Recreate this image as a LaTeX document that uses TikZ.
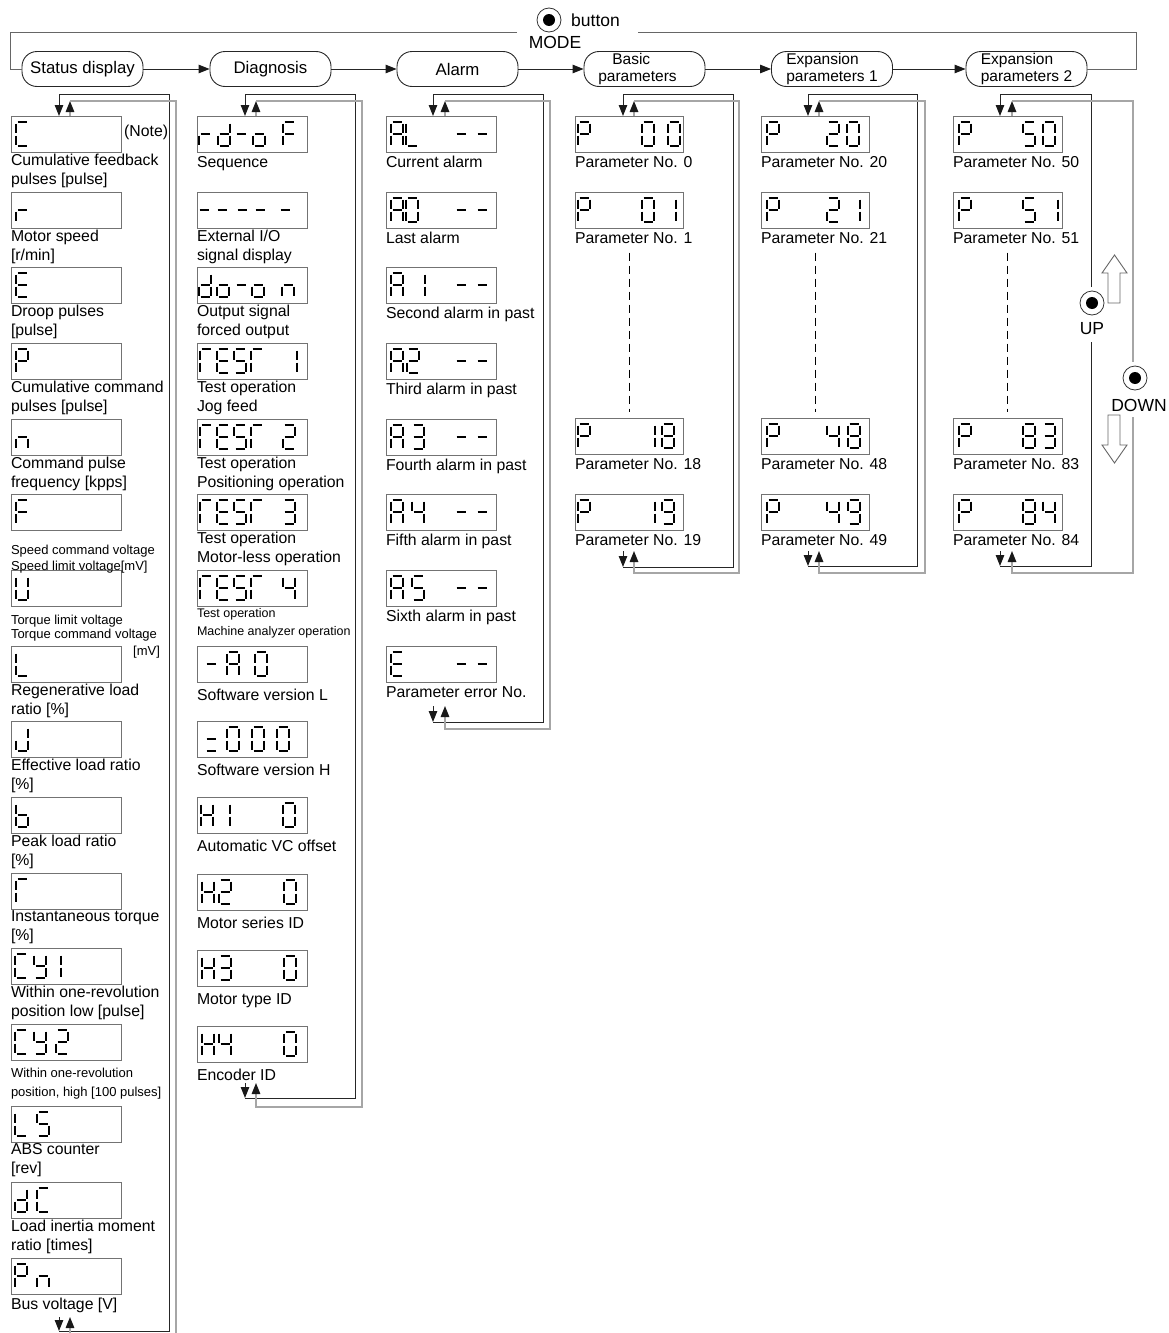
\documentclass[tikz,border=0pt]{standalone}
\usepackage{fontspec}
\setmainfont{Liberation Sans}
\usetikzlibrary{positioning,arrows.meta}

\newcommand\lblfont{\fontsize{15.8}{19}\selectfont}
\newcommand\pillfont{\fontsize{15.5}{17}\selectfont}
\newcommand\keyfont{\fontsize{17.5}{19}\selectfont}

% 7-segment glyphs: a top, b/c right, d bottom, e/f left, g middle
\newcommand\defglyph[2]{\expandafter\def\csname glyph:#1\endcsname{#2}}
\defglyph{C}{a,d,e,f}
\defglyph{r}{e,g}
\defglyph{E}{a,d,e,f,g}
\defglyph{P}{a,b,e,f,g}
\defglyph{n}{c,e,g}
\defglyph{F}{a,e,f,g}
\defglyph{U}{b,c,d,e,f}
\defglyph{L}{d,e,f}
\defglyph{J}{b,c,d,e}
\defglyph{b}{c,d,e,f,g}
\defglyph{T}{a,e,f}
\defglyph{Y}{b,c,d,f,g}
\defglyph{d}{b,c,d,e,g}
\defglyph{o}{c,d,e,g}
\defglyph{S}{a,c,d,f,g}
\defglyph{A}{a,b,c,e,f,g}
\defglyph{H}{b,c,e,f,g}
\defglyph{-}{g}
\defglyph{=}{d,g}
\defglyph{0}{a,b,c,d,e,f}
\defglyph{1}{b,c}
\defglyph{2}{a,b,d,e,g}
\defglyph{3}{a,b,c,d,g}
\defglyph{4}{b,c,f,g}
\defglyph{5}{a,c,d,f,g}
\defglyph{8}{a,b,c,d,e,f,g}
\defglyph{9}{a,b,c,d,f,g}

\newcommand\lcdsega[2]{\draw[segline] ({#1+1.5},{#2}) -- ({#1+10.5},{#2});}
\newcommand\lcdsegb[2]{\draw[segline] ({#1+12},{#2+1.5}) -- ({#1+12},{#2+10.5});}
\newcommand\lcdsegc[2]{\draw[segline] ({#1+12},{#2+13.5}) -- ({#1+12},{#2+22.5});}
\newcommand\lcdsegd[2]{\draw[segline] ({#1+1.5},{#2+24}) -- ({#1+10.5},{#2+24});}
\newcommand\lcdsege[2]{\draw[segline] ({#1},{#2+13.5}) -- ({#1},{#2+22.5});}
\newcommand\lcdsegf[2]{\draw[segline] ({#1},{#2+1.5}) -- ({#1},{#2+10.5});}
\newcommand\lcdsegg[2]{\draw[segline] ({#1+1.5},{#2+12}) -- ({#1+10.5},{#2+12});}

% display box with its glyphs and the text under it
\newcommand\lbloff{37.7}
\newcommand\lcd[6][110]{%
  \node[lcdbox,minimum width=#1] (#2) at (#3,#4) {};
  \foreach \dx/\gl in {#5}{%
    \edef\segs{\csname glyph:\gl\endcsname}%
    \foreach \sg in \segs {\csname lcdseg\sg\endcsname{#3+\dx}{#4+6}}%
  }%
  \ifx\relax#6\relax\else\node[lbl] (#2l) at (#3,#4+\lbloff) {#6};\fi
}

\begin{document}
\begin{tikzpicture}[x=1pt,y=-1pt,
  >={Triangle[length=11pt,width=8.5pt,color=black!90]},
  segline/.style={line width=1.1pt},
  lcdbox/.style={draw=black!55,line width=0.9pt,minimum height=36,anchor=north west,inner sep=0pt,outer sep=0pt},
  lbl/.style={font=\lblfont,align=left,anchor=north west,inner sep=0pt,outer sep=0pt,execute at begin node=\strut},
  pill/.style={draw=black!85,line width=0.9pt,rounded corners=15pt,minimum width=121,minimum height=35,inner sep=0pt,font=\pillfont,align=left},
  fwd/.style={draw=black!85,line width=1pt},
  back/.style={draw=black!35,line width=1.4pt},
  modeloop/.style={draw=black!60,line width=1pt},
  btn/.style={circle,draw=black!80,line width=0.8pt,minimum size=24,inner sep=0pt},
  hollow/.style={draw=black!60,line width=0.9pt,fill=white},
  dashln/.style={draw=black,line width=0.9pt,dash pattern=on 8pt off 5pt}]
\useasboundingbox (0,0) rectangle (1168,1333);

% ---- mode row ----
\node[pill,font=\fontsize{16.8}{19}\selectfont] (st) at (82.5,69) {Status display};
\node[pill,font=\fontsize{16.8}{19}\selectfont] (dg) at (270.5,69) {Diagnosis};
\node[pill,font=\fontsize{16.8}{19}\selectfont] (al) at (457.5,69) {Alarm};
\node[pill] (bp) at (644.5,69) {\hspace*{14pt}Basic\\parameters\hspace*{14pt}};
\node[pill] (e1) at (832,69) {Expansion\\parameters 1};
\node[pill] (e2) at (1026.5,69) {Expansion\\parameters 2};
\draw[fwd,->] (st) -- (dg);
\draw[fwd,->] (dg) -- (al);
\draw[fwd,->] (al) -- (bp);
\draw[fwd,->] (bp) -- (e1);
\draw[fwd,->] (e1) -- (e2);
\draw[modeloop] (e2.east) -- (1136,69) -- (1136,32) -- (638,32);
\draw[modeloop] (517,32) -- (10,32) -- (10,69) -- (st.west);
\node[btn] (modebtn) at (549,20) {};
\fill (modebtn.center) circle[radius=6];
\node[font=\keyfont,anchor=west,inner sep=0pt] (btntxt) at (571,20) {button};
\node[font=\keyfont,inner sep=0pt] (modetxt) at (555,42) {MODE};

% ---- status display ----
\lcd{s0}{11}{116}{5/C}{Cumulative feedback\\pulses [pulse]}
\lcd{s1}{11}{192}{5/r}{Motor speed\\{}[r/min]}
\lcd{s2}{11}{267}{5/E}{Droop pulses\\{}[pulse]}
\lcd{s3}{11}{343}{5/P}{Cumulative command\\pulses [pulse]}
\lcd{s4}{11}{419}{5/n}{Command pulse\\frequency [kpps]}
\lcd{s5}{11}{494}{5/F}{}
\lcd{s6}{11}{570}{5/U}{}
\lcd{s7}{11}{646}{5/L}{Regenerative load\\ratio [\%]}
\lcd{s8}{11}{721}{5/J}{Effective load ratio\\{}[\%]}
\lcd{s9}{11}{797}{5/b}{Peak load ratio\\{}[\%]}
\lcd{s10}{11}{873}{5/T}{Instantaneous torque\\{}[\%]}
\lcd{s11}{11}{948}{4/C,23/Y,38/1}{Within one-revolution\\position low [pulse]}
\lcd{s12}{11}{1024}{4/C,23/Y,45/2}{}
\lcd{s13}{11}{1106}{4/L,26/S}{ABS counter\\{}[rev]}
\lcd{s14}{11}{1182}{4/d,26/C}{Load inertia moment\\ratio [times]}
\lcd{s15}{11}{1258}{4/P,26/n}{Bus voltage [V]}
\node[font=\lblfont,anchor=base west,inner sep=0pt] (note) at (124,136) {(Note)};
\node[lbl,font=\fontsize{13}{16.5}\selectfont] (s5l) at (11,545) {Speed command voltage\\Speed limit voltage[mV]};
\node[lbl,font=\fontsize{13}{14}\selectfont] (s6l) at (11,615) {Torque limit voltage\\Torque command voltage};
\node[font=\fontsize{13}{14}\selectfont,anchor=base west,inner sep=0pt] (mv) at (133,655) {[mV]};
\node[lbl,font=\fontsize{13}{19}\selectfont] (s12l) at (11,1068) {Within one-revolution\\position, high [100 pulses]};

% ---- diagnosis ----
\lcd{d0}{197}{116}{2/r,21/d,38/-,56/o,86/F}{Sequence}
\lcd{d1}{197}{192}{1/-,19/-,39/-,57/-,82/-}{External I/O\\signal display}
\lcd{d2}{197}{267}{2/d,20/o,38/-,55/o,85/n}{Output signal\\forced output}
\lcd{d3}{197}{343}{3/T,20/E,37/S,54/T,88/1}{Test operation\\Jog feed}
\lcd{d4}{197}{419}{3/T,20/E,37/S,54/T,86/2}{Test operation\\Positioning operation}
\lcd{d5}{197}{494}{3/T,20/E,37/S,54/T,86/3}{Test operation\\Motor-less operation}
\lcd{d6}{197}{570}{3/T,20/E,37/S,54/T,86/4}{}
\node[lbl,font=\fontsize{12.5}{18}\selectfont] (d6l) at (197,608) {Test operation\\Machine analyzer operation};
\renewcommand\lbloff{40.7}
\lcd{d7}{197}{646}{8/-,30/A,58/0}{Software version L}
\lcd{d8}{197}{721}{8/=,30/0,55/0,80/0}{Software version H}
\lcd{d9}{197}{797}{4/H,21/1,86/0}{Automatic VC offset}
\lcd{d10}{197}{874}{5/H,22/2,87/0}{Motor series ID}
\lcd{d11}{197}{950}{5/H,22/3,87/0}{Motor type ID}
\lcd{d12}{197}{1026}{5/H,22/4,87/0}{Encoder ID}
\renewcommand\lbloff{37.7}

% ---- alarm ----
\lcd{a0}{386}{116}{5/A,20/L,69/-,90/-}{Current alarm}
\lcd{a1}{386}{192}{5/A,20/0,69/-,90/-}{Last alarm}
\lcd{a2}{386}{267}{5/A,27/1,69/-,90/-}{Second alarm in past}
\lcd{a3}{386}{343}{5/A,21/2,69/-,90/-}{Third alarm in past}
\lcd{a4}{386}{419}{5/A,26/3,69/-,90/-}{Fourth alarm in past}
\lcd{a5}{386}{494}{5/A,26/4,69/-,90/-}{Fifth alarm in past}
\lcd{a6}{386}{570}{5/A,26/5,69/-,90/-}{Sixth alarm in past}
\lcd{a7}{386}{646}{5/E,69/-,90/-}{Parameter error No.}

% ---- parameters ----
\lcd[108]{b0}{575}{116}{3/P,67/0,93/0}{Parameter No. 0}
\lcd[108]{b1}{575}{192}{3/P,67/0,89/1}{Parameter No. 1}
\lcd[108]{b4}{575}{418}{3/P,68/1,87/8}{Parameter No. 18}
\lcd[108]{b5}{575}{494}{3/P,68/1,87/9}{Parameter No. 19}
\lcd[108]{f0}{761}{116}{6/P,66/2,86/0}{Parameter No. 20}
\lcd[108]{f1}{761}{192}{6/P,66/2,87/1}{Parameter No. 21}
\lcd[108]{f4}{761}{418}{6/P,66/4,87/8}{Parameter No. 48}
\lcd[108]{f5}{761}{494}{6/P,66/4,87/9}{Parameter No. 49}
\lcd[109]{g0}{953}{116}{6/P,70/5,90/0}{Parameter No. 50}
\lcd[109]{g1}{953}{192}{6/P,70/5,93/1}{Parameter No. 51}
\lcd[109]{g4}{953}{418}{6/P,70/8,90/3}{Parameter No. 83}
\lcd[109]{g5}{953}{494}{6/P,70/8,90/4}{Parameter No. 84}
\draw[dashln] ([yshift=-4pt]b1l.south -| b4.north) -- ([yshift=6pt]b4.north);
\draw[dashln] ([yshift=-4pt]f1l.south -| f4.north) -- ([yshift=6pt]f4.north);
\draw[dashln] ([yshift=-4pt]g1l.south -| g4.north) -- ([yshift=6pt]g4.north);

% ---- cycling loops (down / up) ----
\foreach \xd/\xu/\ra/\rb/\ba/\bb/\tp in {59/70/169/176/1331/1340/1317,
    245/256/355/362/1098/1107/1083, 433/445/543/550/722/729/706,
    623/634/733/739/567/573/551, 808/819/917/925/566/573/551}{
  \draw[fwd,->] (\xd,\tp) -- (\xd,\ba);
  \draw[fwd,->] (\xd,\ba) -| (\ra,94) -| (\xd,116);
  \draw[back,->] (\xu,116) -- (\xu,101);
  \draw[back,->] (\xu,101) -| (\rb,\bb) -| (\xu,\tp);
}
\draw[fwd,->] (1000,551) -- (1000,566);
\draw[fwd] (1000,566) -- (1091,566) -- (1091,342);
\draw[fwd,->] (1091,287) -- (1091,94) -| (1000,116);
\draw[back,->] (1012,116) -- (1012,101);
\draw[back] (1012,101) -- (1133,101) -- (1133,362);
\draw[back,->] (1133,417) -- (1133,573) -| (1012,551);

% ---- UP / DOWN buttons ----
\node[btn] (upbtn) at (1092,303) {};
\fill (upbtn.center) circle[radius=6];
\node[font=\keyfont,inner sep=0pt] (uptxt) at (1092,329) {UP};
\node[btn] (dnbtn) at (1135,378) {};
\fill (dnbtn.center) circle[radius=6];
\node[font=\keyfont,inner sep=0pt] (dntxt) at (1139,405) {DOWN};
\draw[hollow] (1108,303) -- (1108,273) -- (1102,273) -- (1114.5,255) -- (1127,273) -- (1120,273) -- (1120,303) -- cycle;
\draw[hollow] (1108,415) -- (1108,445) -- (1102,445) -- (1114.5,463) -- (1127,445) -- (1120,445) -- (1120,415) -- cycle;
\end{tikzpicture}
\end{document}
